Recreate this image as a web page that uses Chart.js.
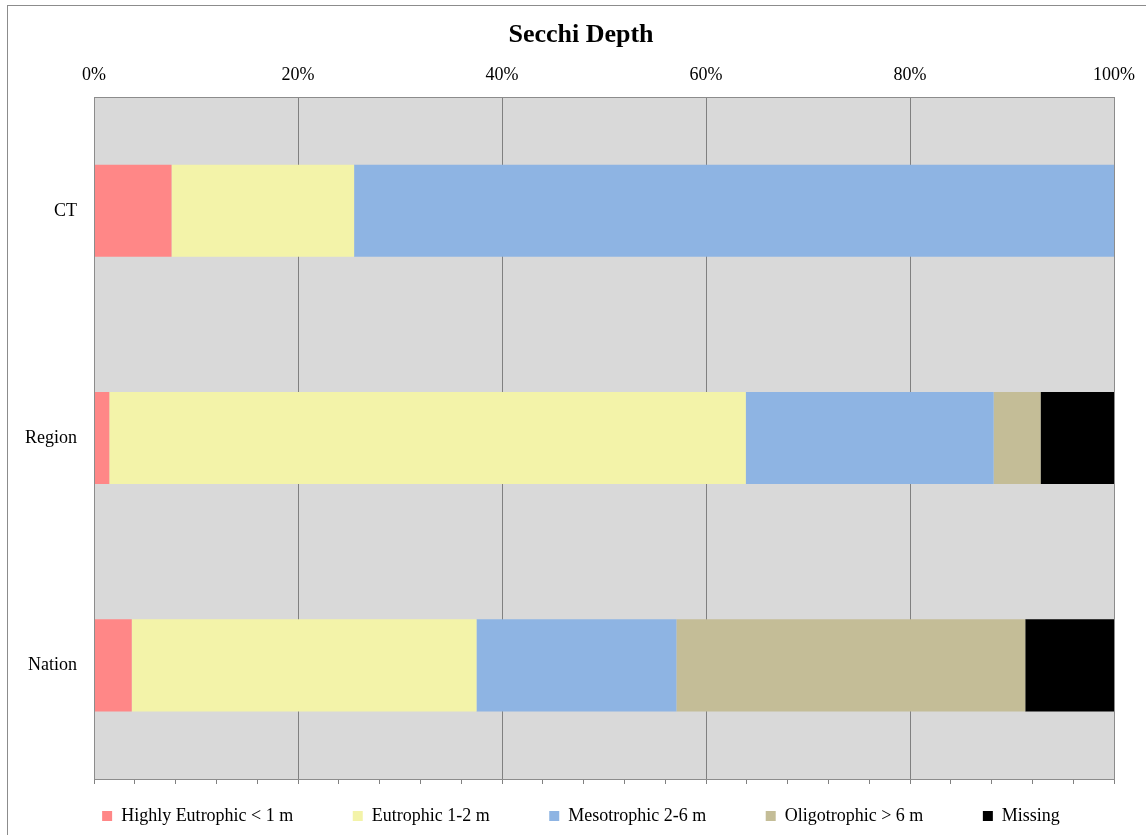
<!DOCTYPE html>
<html>
<head>
<meta charset="utf-8">
<script src="https://cdn.jsdelivr.net/npm/chart.js@4"></script>
<style>
  html, body { margin: 0; padding: 0; background: #fff; overflow: hidden; }
  #wrap { position: relative; width: 1146px; height: 835px; }
  #frame { position: absolute; left: 7px; top: 5px; width: 1200px; height: 900px; border: 1px solid #8c8c8c; pointer-events: none; }
  canvas { position: absolute; left: 0; top: 0; }
</style>
</head>
<body>
<div id="wrap">
  <canvas id="c" width="1146" height="835"></canvas>
  <div id="frame"></div>
</div>
<script>
const categories = ["CT", "Region", "Nation"];
const seriesNames = ["Highly Eutrophic < 1 m", "Eutrophic 1-2 m", "Mesotrophic 2-6 m", "Oligotrophic > 6 m", "Missing"];
const highlyEutrophic = [7.6, 1.5, 3.7];
const eutrophic = [17.9, 62.4, 33.8];
const mesotrophic = [74.5, 24.3, 19.6];
const oligotrophic = [0, 4.6, 34.2];
const missing = [0, 7.2, 8.7];
const seriesColors = ["#FF8787", "#F3F3A9", "#8EB4E3", "#C4BD97", "#000000"];
const xTicks = [0, 20, 40, 60, 80, 100];

const FONT = "'Liberation Serif', 'Times New Roman', serif";

const plotBg = {
  id: 'plotBg',
  beforeDraw(chart) {
    const a = chart.chartArea, ctx = chart.ctx;
    ctx.save();
    ctx.fillStyle = '#d9d9d9';
    ctx.fillRect(a.left, a.top, a.right - a.left, a.bottom - a.top);
    ctx.restore();
  },
  afterDatasetsDraw(chart) {
    const a = chart.chartArea, ctx = chart.ctx;
    ctx.save();
    ctx.strokeStyle = '#8c8c8c';
    ctx.lineWidth = 1;
    ctx.strokeRect(Math.round(a.left) + 0.5, Math.round(a.top) + 0.5, Math.round(a.right - a.left), Math.round(a.bottom - a.top));
    ctx.restore();
  }
};

const allSeries = [highlyEutrophic, eutrophic, mesotrophic, oligotrophic, missing];
const datasets = allSeries.map((d, i) => ({
  label: seriesNames[i],
  data: d,
  backgroundColor: seriesColors[i],
  borderWidth: 0,
  barPercentage: 0.405,
  categoryPercentage: 1.0,
  xAxisID: 'x',
  yAxisID: 'y'
}));

new Chart(document.getElementById('c'), {
  type: 'bar',
  data: { labels: categories, datasets },
  plugins: [plotBg],
  options: {
    indexAxis: 'y',
    responsive: false,
    animation: false,
    devicePixelRatio: 1,
    layout: { padding: { left: 16, right: 0, top: 0, bottom: 0 } },
    plugins: {
      title: {
        display: true,
        text: 'Secchi Depth',
        color: '#000',
        font: { family: FONT, size: 26, weight: 'bold' },
        padding: { top: 20, bottom: 0 }
      },
      legend: {
        position: 'bottom',
        labels: {
          color: '#000',
          font: { family: FONT, size: 18 },
          boxWidth: 10,
          boxHeight: 10,
          padding: 10,
          generateLabels(chart) {
            const items = Chart.defaults.plugins.legend.labels.generateLabels(chart);
            items.forEach((it, i) => {
              if (i < items.length - 1) it.text = it.text + '\u2003\u2003   ';
              it.lineWidth = 0;
            });
            return items;
          }
        }
      },
      tooltip: { enabled: false }
    },
    scales: {
      x: {
        type: 'linear',
        position: 'top',
        stacked: true,
        min: 0,
        max: 100,
        afterBuildTicks(scale) { scale.ticks = xTicks.map(v => ({ value: v })); },
        afterFit(scale) { scale.height = 46; },
        ticks: {
          color: '#000',
          font: { family: FONT, size: 18 },
          padding: 11,
          maxRotation: 0,
          autoSkip: false,
          callback: v => v + '%'
        },
        grid: { color: '#808080', drawTicks: false, lineWidth: 1 },
        border: { display: false }
      },
      x2: {
        type: 'linear',
        position: 'bottom',
        min: 0,
        max: 100,
        ticks: { display: false, stepSize: 4, autoSkip: false },
        afterFit(scale) { scale.height = 18; },
        grid: { drawOnChartArea: false, drawTicks: true, tickLength: 5, color: '#808080' },
        border: { display: true, color: '#808080' }
      },
      y: {
        type: 'category',
        stacked: true,
        afterFit(scale) { scale.width = 78; },
        ticks: { color: '#000', font: { family: FONT, size: 18 }, padding: 17 },
        grid: { display: false, drawTicks: false },
        border: { display: true, color: '#8c8c8c' }
      },
      yRight: {
        type: 'category',
        position: 'right',
        afterFit(scale) { scale.width = 32; },
        ticks: { display: false },
        grid: { display: false, drawTicks: false },
        border: { display: false }
      }
    }
  }
});
</script>
</body>
</html>
